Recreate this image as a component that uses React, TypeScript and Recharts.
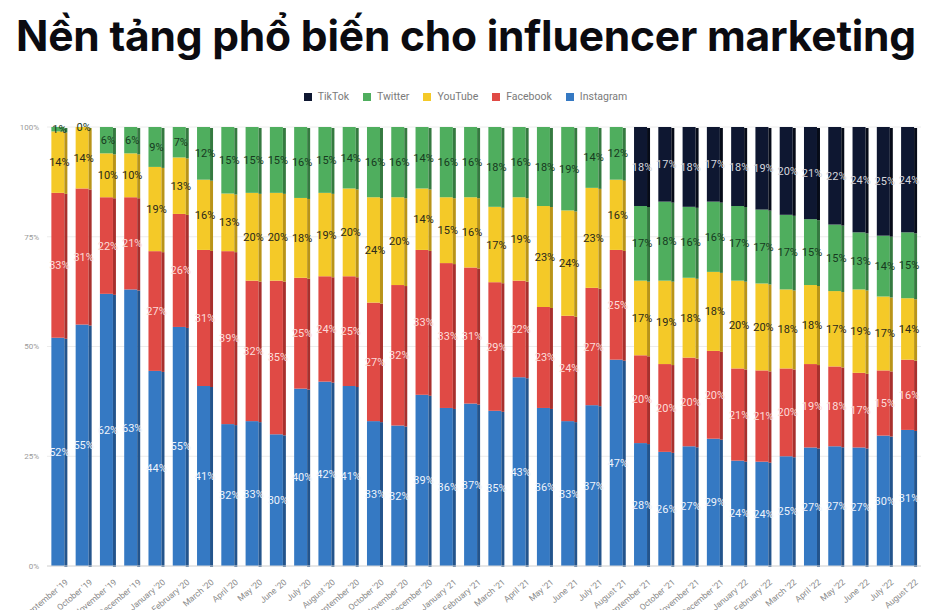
import { Bar, BarChart, CartesianGrid, Legend, XAxis, YAxis } from 'recharts';

const months = [
  "September '19", "October '19", "November '19", "December '19",
  "January '20", "February '20", "March '20", "April '20", "May '20", "June '20",
  "July '20", "August '20", "September '20", "October '20", "November '20", "December '20",
  "January '21", "February '21", "March '21", "April '21", "May '21", "June '21",
  "July '21", "August '21", "September '21", "October '21", "November '21", "December '21",
  "January '22", "February '22", "March '22", "April '22", "May '22", "June '22",
  "July '22", "August '22",
];

const instagram = [52, 55, 62, 63, 44, 55, 41, 32, 33, 30, 40, 42, 41, 33, 32, 39, 36, 37, 35, 43, 36, 33, 37, 47, 28, 26, 27, 29, 24, 24, 25, 27, 27, 27, 30, 31];
const facebook = [33, 31, 22, 21, 27, 26, 31, 39, 32, 35, 25, 24, 25, 27, 32, 33, 33, 31, 29, 22, 23, 24, 27, 25, 20, 20, 20, 20, 21, 21, 20, 19, 18, 17, 15, 16];
const youtube = [14, 14, 10, 10, 19, 13, 16, 13, 20, 20, 18, 19, 20, 24, 20, 14, 15, 16, 17, 19, 23, 24, 23, 16, 17, 19, 18, 18, 20, 20, 18, 18, 17, 19, 17, 14];
const twitter = [1, 0, 6, 6, 9, 7, 12, 15, 15, 15, 16, 15, 14, 16, 16, 14, 16, 16, 18, 16, 18, 19, 14, 12, 17, 18, 16, 16, 17, 17, 17, 15, 15, 13, 14, 15];
const tiktok = [0, 0, 0, 0, 0, 0, 0, 0, 0, 0, 0, 0, 0, 0, 0, 0, 0, 0, 0, 0, 0, 0, 0, 0, 18, 17, 18, 17, 18, 19, 20, 21, 22, 24, 25, 24];

const yTicks = [0, 0.25, 0.5, 0.75, 1];

const data = months.map((m, i) => ({
  month: m,
  instagram: instagram[i],
  facebook: facebook[i],
  youtube: youtube[i],
  twitter: twitter[i],
  tiktok: tiktok[i],
}));

const series = [
  { key: 'instagram', name: 'Instagram', color: '#3579c3', side: '#23548c', label: '#eef3fb' },
  { key: 'facebook', name: 'Facebook', color: '#e04a45', side: '#a8302d', label: '#fcdcda' },
  { key: 'youtube', name: 'YouTube', color: '#f4c928', side: '#b99418', label: '#2b2a1c' },
  { key: 'twitter', name: 'Twitter', color: '#4fae5e', side: '#357a40', label: '#173a1e' },
  { key: 'tiktok', name: 'TikTok', color: '#0e1731', side: '#060b18', label: '#d4d6dc' },
];

const makeShape = (s: typeof series[number]) => (props: any) => {
  const { x, y, width, height, payload } = props;
  const v = payload ? payload[s.key] : 0;
  if (s.key === 'tiktok' && !v) return <g />;
  const side = 3;
  const h = Math.max(height || 0, 0);
  return (
    <g>
      {h > 0 && <rect x={x} y={y} width={width - side} height={h} fill={s.color} />}
      {h > 0 && <rect x={x + width - side} y={y + 1} width={side} height={h} fill={s.side} />}
      <text
        x={x + width / 2}
        y={y + h / 2}
        dy={4}
        textAnchor="middle"
        fontSize={11}
        fill={s.label}
        fontFamily="Roboto, sans-serif"
      >
        {v}%
      </text>
    </g>
  );
};

const MonthTick = (props: any) => {
  const { x, y, payload } = props;
  return (
    <g transform={`translate(${x + 7},${y + 6}) rotate(-40)`}>
      <text textAnchor="end" fontSize={8.5} fill="#8a8a8a" fontFamily="Roboto, sans-serif" dy={4}>
        {payload.value}
      </text>
    </g>
  );
};

const LegendContent = () => (
  <div
    style={{
      display: 'flex',
      justifyContent: 'center',
      gap: 14,
      fontFamily: 'Roboto, sans-serif',
      fontSize: 10.5,
      color: '#7a7a7a',
      marginLeft: 10,
    }}
  >
    {[...series].reverse().map((s) => (
      <span key={s.key} style={{ display: 'flex', alignItems: 'center', gap: 6 }}>
        <span style={{ width: 8, height: 8, background: s.color, display: 'inline-block' }} />
        {s.name}
      </span>
    ))}
  </div>
);

export default function App() {
  return (
    <div style={{ position: 'absolute', left: 0, top: 0, width: 940, height: 610, background: '#fff', overflow: 'hidden' }}>
      <div
        style={{
          height: 72,
          lineHeight: '72px',
          textAlign: 'center',
          fontFamily: 'Inter, sans-serif',
          fontWeight: 700,
          fontSize: 42.5,
          color: '#0b0b10',
          letterSpacing: -0.2,
          marginLeft: -8,
        }}
      >
        Nền tảng phổ biến cho influencer marketing
      </div>
      <BarChart
        width={940}
        height={538}
        data={data}
        stackOffset="expand"
        barCategoryGap="18%"
        margin={{ top: 18, right: 19, bottom: 0, left: 0 }}
      >
        <CartesianGrid vertical={false} stroke="#ececec" />
        <Legend verticalAlign="top" height={37} content={<LegendContent />} />
        <XAxis
          dataKey="month"
          interval={0}
          height={44}
          tickLine={false}
          axisLine={{ stroke: '#d8d8d8' }}
          tick={<MonthTick />}
        />
        <YAxis
          width={47}
          domain={[0, 1]}
          ticks={yTicks}
          tickFormatter={(v: number) => `${Math.round(v * 100)}%`}
          tickLine={false}
          axisLine={false}
          tick={{ fontSize: 8, fill: '#9a9a9a', fontFamily: 'Roboto, sans-serif' }}
        />
        {series.map((s) => (
          <Bar
            key={s.key}
            dataKey={s.key}
            name={s.name}
            stackId="a"
            fill={s.color}
            isAnimationActive={false}
            shape={makeShape(s)}
          />
        ))}
      </BarChart>
    </div>
  );
}
